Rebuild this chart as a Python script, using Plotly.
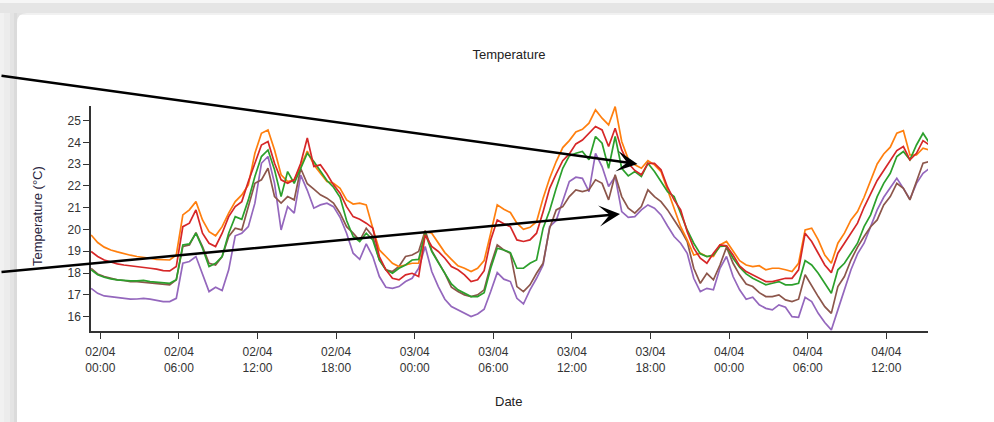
import pandas as pd
import plotly.graph_objects as go

# ---------------- data (half-hourly readings, °C) ----------------
start_time = "2023-04-01 23:18"
series_names = ["Sensor A", "Sensor B", "Sensor C", "Sensor D", "Sensor E"]

orange = [19.75, 19.40, 19.19, 19.06, 18.97, 18.88, 18.82, 18.76, 18.73, 18.68, 18.63, 18.60, 18.60,
          18.83, 20.67, 20.90, 21.28, 20.44, 19.90, 19.71, 20.13, 20.75, 21.28, 21.59, 22.05, 23.50, 24.42, 24.57, 23.65, 22.51, 22.20, 22.28, 22.90,
          23.60, 22.97, 22.58, 22.20, 22.12, 21.89, 21.36, 21.17, 21.21, 21.13, 20.06, 19.06, 18.76, 18.45, 18.30, 18.37, 18.45, 18.45, 19.90, 19.83, 19.40, 18.94, 18.63, 18.33, 18.22, 18.07, 18.22, 18.57, 19.83, 21.13, 20.93, 20.78,
          20.29, 20.01, 20.10, 20.36, 21.44, 22.35, 23.12, 23.76, 24.08, 24.48, 24.60, 24.88, 25.49, 25.11, 24.80, 25.64, 24.04, 23.23, 22.97, 22.81, 23.16, 22.97, 22.66, 21.82, 20.90, 20.13, 19.52, 18.83, 18.91, 18.76, 18.76, 19.29,
          19.45, 18.99, 18.57, 18.37, 18.30, 18.34, 18.15, 18.22, 18.22, 18.15, 18.07, 18.45, 19.98, 20.06, 19.52, 18.83, 18.45, 19.37, 19.83, 20.44, 20.82, 21.48, 22.28, 23.01, 23.47, 23.78, 24.42, 24.54, 23.42, 23.42, 23.73, 23.65]

red = [18.99, 18.76, 18.60, 18.50, 18.42, 18.37, 18.34, 18.30, 18.25, 18.22, 18.18, 18.11, 18.10,
       18.30, 20.13, 20.29, 20.90, 19.83, 19.37, 19.22, 19.83, 20.59, 21.05, 21.28, 22.20, 23.04, 23.88, 24.04, 23.04, 22.28, 22.12, 22.28, 23.04,
       24.20, 22.89, 22.97, 22.55, 22.05, 21.67, 21.05, 20.59, 20.47, 20.29, 20.06, 18.76, 18.15, 17.76, 17.69, 17.92, 17.99, 17.84, 19.75, 19.22, 18.99, 18.68, 18.30, 18.15, 17.92, 17.61, 17.69, 18.11, 19.52, 20.44, 20.26, 20.13,
       19.52, 19.45, 19.52, 19.83, 20.82, 21.89, 22.55, 23.16, 23.47, 23.93, 24.11, 24.42, 24.73, 24.57, 23.81, 24.65, 23.65, 23.04, 22.71, 22.51, 23.04, 23.04, 22.74, 21.94, 21.36, 20.90, 19.90, 19.14, 18.68, 18.45, 18.91, 19.29,
       19.25, 18.83, 18.33, 18.07, 17.92, 17.76, 17.61, 17.61, 17.69, 17.76, 17.76, 18.15, 19.83, 19.45, 18.91, 18.37, 18.02, 18.91, 19.37, 19.83, 20.29, 21.02, 21.63, 22.25, 22.71, 23.16, 23.62, 23.81, 23.20, 23.50, 24.08, 23.88]

green = [18.15, 17.92, 17.81, 17.73, 17.69, 17.66, 17.64, 17.64, 17.66, 17.61, 17.58, 17.53, 17.53,
         17.69, 19.29, 19.34, 19.83, 19.14, 18.30, 18.45, 18.76, 19.83, 20.59, 20.47, 21.36, 22.43, 23.35, 23.65, 22.74, 21.51, 22.66, 22.12, 22.81,
         23.50, 23.12, 22.71, 22.25, 21.94, 21.48, 20.41, 19.68, 19.45, 19.83, 19.52, 18.60, 18.15, 17.99, 18.22, 18.37, 18.60, 18.63, 19.83, 18.99, 18.48, 18.02, 17.50, 17.23, 17.07, 16.92, 16.92, 17.10, 18.22, 19.14, 19.06, 18.94,
         18.22, 18.22, 18.45, 18.60, 20.06, 20.87, 21.89, 22.81, 23.38, 23.50, 23.58, 23.20, 24.27, 23.96, 22.81, 24.27, 22.81, 22.46, 22.66, 22.43, 23.04, 22.66, 22.20, 21.74, 21.51, 20.75, 19.98, 19.37, 18.88, 18.76, 18.83, 19.22,
         19.25, 18.68, 18.27, 17.96, 17.76, 17.61, 17.46, 17.53, 17.61, 17.46, 17.46, 17.53, 18.57, 18.37, 17.99, 17.53, 17.07, 18.15, 18.45, 18.91, 19.37, 20.13, 20.67, 21.51, 22.12, 22.58, 23.35, 23.58, 23.20, 23.88, 24.42, 23.96]

brown = [18.22, 17.96, 17.84, 17.76, 17.69, 17.66, 17.61, 17.61, 17.58, 17.53, 17.50, 17.46, 17.46,
         17.69, 19.22, 19.29, 19.86, 19.22, 18.45, 18.37, 18.76, 19.68, 20.06, 19.98, 21.05, 22.12, 22.28, 22.81, 21.51, 21.21, 21.51, 21.36, 22.80,
         22.10, 21.85, 21.59, 21.44, 21.21, 20.75, 20.13, 19.83, 19.49, 20.06, 19.68, 18.60, 18.15, 18.07, 18.30, 18.76, 18.83, 18.99, 19.95, 19.03, 18.53, 17.99, 17.35, 17.15, 17.00, 16.92, 17.00, 17.23, 18.37, 19.29, 19.06, 18.91,
         17.38, 17.15, 17.46, 17.99, 18.45, 20.06, 20.90, 21.05, 21.51, 21.82, 21.74, 21.82, 22.28, 22.12, 21.36, 22.51, 21.51, 20.98, 20.75, 21.05, 21.82, 21.51, 21.28, 20.90, 20.44, 19.98, 19.45, 18.22, 17.53, 17.99, 17.69, 18.37,
         19.19, 18.45, 17.92, 17.50, 17.38, 17.10, 16.92, 16.92, 17.00, 16.77, 16.69, 16.80, 17.92, 17.41, 16.92, 16.46, 16.15, 17.38, 17.84, 18.60, 19.19, 19.68, 20.13, 20.44, 21.13, 21.51, 22.12, 21.89, 21.36, 22.20, 23.04, 23.12]

purple = [17.30, 17.07, 16.95, 16.92, 16.89, 16.84, 16.80, 16.81, 16.84, 16.80, 16.74, 16.69, 16.69,
          16.84, 18.45, 18.53, 18.76, 17.99, 17.15, 17.35, 17.20, 18.15, 19.71, 19.83, 20.13, 21.21, 23.04, 23.35, 22.12, 19.98, 21.05, 20.75, 22.50,
          21.80, 20.98, 21.13, 21.21, 21.05, 20.56, 19.83, 18.91, 18.63, 19.34, 18.76, 17.84, 17.35, 17.30, 17.38, 17.61, 17.76, 18.22, 19.22, 18.07, 17.38, 16.80, 16.46, 16.31, 16.15, 16.00, 16.12, 16.34, 17.15, 18.02, 17.72, 17.61,
          16.84, 16.58, 17.23, 17.76, 18.37, 20.13, 20.41, 21.28, 22.20, 22.40, 22.35, 21.74, 23.50, 22.89, 21.97, 22.43, 20.82, 20.56, 20.59, 20.90, 21.13, 20.98, 20.67, 20.16, 19.68, 19.37, 18.91, 17.76, 17.15, 17.30, 17.23, 18.22,
          18.76, 17.84, 17.23, 16.80, 16.89, 16.54, 16.38, 16.31, 16.54, 16.43, 16.00, 15.97, 16.89, 16.69, 16.15, 15.73, 15.39, 16.31, 17.23, 18.15, 18.88, 19.37, 20.13, 20.90, 21.48, 21.94, 22.35, 21.89, 21.39, 22.12, 22.58, 22.81]

y_ticks = [16, 17, 18, 19, 20, 21, 22, 23, 24, 25]
x_range = ["2023-04-01 23:17:24", "2023-04-04 15:10:48"]
y_range = [15.34, 25.67]

times = pd.date_range(start_time, periods=len(orange), freq="30min")

# ---------------- figure ----------------
W, H = 994, 422
ML, MR, MT, MB = 91, 66, 106, 91
PW, PH = W - ML - MR, H - MT - MB


def px2x(px):
    return (px - ML) / PW


def py2y(py):
    return (H - MB - py) / PH


fig = go.Figure()
draw_order = [("purple", purple), ("brown", brown), ("orange", orange), ("green", green), ("red", red)]
color_map = {"orange": "#ff7f0e", "red": "#d62728", "green": "#2ca02c", "brown": "#8c564b", "purple": "#9467bd"}
name_map = {"orange": series_names[0], "brown": series_names[1], "purple": series_names[2],
            "green": series_names[3], "red": series_names[4]}
for key, vals in draw_order:
    fig.add_trace(go.Scatter(x=times, y=vals, mode="lines", name=name_map[key],
                             line=dict(color=color_map[key], width=1.7), showlegend=False))

shapes = []


def rect(x0, y0, x1, y1, color):
    shapes.append(dict(type="rect", xref="paper", yref="paper", layer="below",
                       x0=px2x(x0), x1=px2x(x1), y0=py2y(y1), y1=py2y(y0),
                       fillcolor=color, line=dict(width=0)))


# page background outside the card
rect(0, 0, W, 3, "#f6f6f6")
rect(0, 3, W, 13, "#e5e5e5")
rect(0, 13, 4, H, "#f1f1f1")
rect(4, 13, 10, H, "#ececec")
rect(10, 13, 14, H, "#e4e4e4")
rect(14, 13, 17, H, "#dbdbdb")
rect(17, 13, W, 15, "#f1f1f1")
# rounded card corner
cx, cy, r = 17, 13, 10
shapes.append(dict(type="path", xref="paper", yref="paper", layer="below",
                   path=(f"M {px2x(cx)},{py2y(cy)} L {px2x(cx + r)},{py2y(cy)} "
                         f"Q {px2x(cx)},{py2y(cy)} {px2x(cx)},{py2y(cy + r)} Z"),
                   fillcolor="#e2e2e2", line=dict(width=0)))

annotations = [
    dict(text="Temperature (°C)", x=px2x(37), y=py2y(216), xref="paper", yref="paper",
         xanchor="center", yanchor="middle",
         textangle=-90, showarrow=False, font=dict(size=13, color="#2a2540")),
    dict(text="Date", x=px2x(508), y=py2y(401), xref="paper", yref="paper",
         xanchor="center", yanchor="middle",
         showarrow=False, font=dict(size=13, color="#222")),
    dict(text="", x=px2x(637.5), y=py2y(164), xref="paper", yref="paper",
         ax=-642, ay=-88.5, showarrow=True, arrowhead=3, arrowsize=1.4,
         arrowwidth=2.5, arrowcolor="black", standoff=0),
    dict(text="", x=px2x(620), y=py2y(214), xref="paper", yref="paper",
         ax=-624, ay=58.1, showarrow=True, arrowhead=3, arrowsize=1.4,
         arrowwidth=2.5, arrowcolor="black", standoff=0),
]

axis_common = dict(showline=True, linecolor="#333", linewidth=1.5, ticks="outside",
                   ticklen=6, tickwidth=1, tickcolor="#333", showgrid=False, zeroline=False,
                   tickfont=dict(family="Liberation Sans, Arial, sans-serif", size=12, color="#333"))

fig.update_layout(
    width=W, height=H,
    margin=dict(l=ML, r=MR, t=MT, b=MB, pad=0),
    paper_bgcolor="white", plot_bgcolor="rgba(0,0,0,0)",
    font=dict(family="Liberation Sans, Arial, sans-serif", color="#222"),
    title=dict(text="Temperature", x=px2x(509), xref="paper", y=1 - 54 / H, yref="container",
               xanchor="center", yanchor="middle", font=dict(size=13, color="#222")),
    xaxis=dict(type="date", range=x_range, tickformat="%d/%m<br>%H:%M",
               dtick=6 * 3600 * 1000, tick0="2023-04-02 00:00", ticklabelstandoff=3,
               **axis_common),
    yaxis=dict(range=y_range, tickvals=y_ticks, **axis_common),
    shapes=shapes, annotations=annotations,
)

fig.write_html("out.html")
